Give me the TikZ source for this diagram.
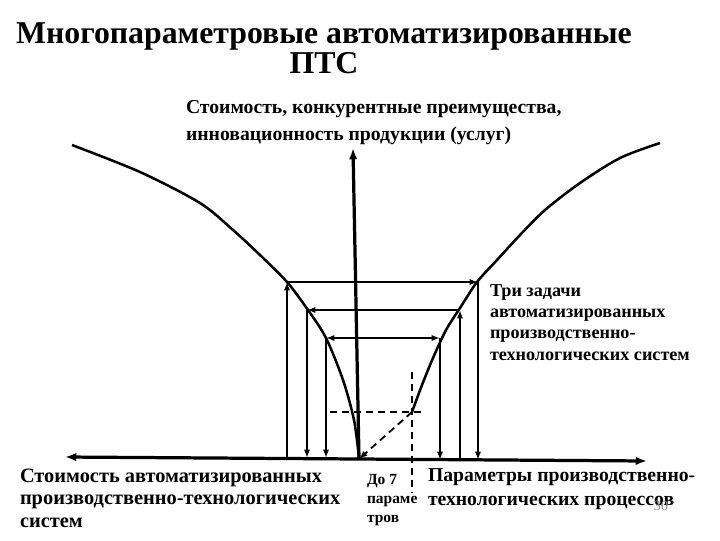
\documentclass[tikz,border=0pt]{standalone}
\usepackage{fontspec}
\setmainfont{Liberation Serif}
\usetikzlibrary{arrows.meta}

\begin{document}
\begin{tikzpicture}[x=0.025cm,y=-0.025cm,
  every node/.style={inner sep=0pt,outer sep=0pt},
  axis/.style={line width=2.3pt,-{Latex[length=8pt,width=6pt]}},
  curve/.style={line width=1.8pt},
  tip/.style={line width=1.2pt,-{Latex[length=6pt,width=4.5pt]}},
  both/.style={line width=1.2pt,{Latex[length=6pt,width=4.5pt]}-{Latex[length=6pt,width=4.5pt]}},
  guide/.style={line width=1.3pt,dash pattern=on 5pt off 3.5pt},
  lbl/.style={anchor=base west,align=left,font=\bfseries\fontsize{14}{17}\selectfont}]
  \useasboundingbox (0,0) rectangle (720,540);
  % texts (base = baseline of the last line)
  \node[anchor=base,align=center,font=\bfseries\fontsize{22.6}{21}\selectfont] (title) at (324,73) {Многопараметровые автоматизированные\\ПТС};
  \node[lbl,font=\bfseries\fontsize{14}{19.2}\selectfont] (ytitle) at (186,140) {Стоимость, конкурентные преимущества,\\инновационность продукции (услуг)};
  \node[lbl,font=\bfseries\fontsize{12.9}{15}\selectfont] (tasks) at (490,360) {Три задачи\\автоматизированных\\производственно-\\технологических систем};
  \node[lbl,font=\bfseries\fontsize{14.5}{16}\selectfont] (cost) at (20,527) {Стоимость автоматизированных\\производственно-технологических\\систем};
  \node[lbl] (params) at (428,505) {Параметры производственно-\\технологических процессов};
  \node[lbl,font=\bfseries\fontsize{11}{13.5}\selectfont] (upto) at (367,522) {До 7\\параме\\тров};
  \node[font=\fontsize{10}{12}\selectfont,text=black!45] (slideno) at (661,506) {30};
  % axes
  \coordinate (O) at (359,459);
  \coordinate (xl) at (65,457);
  \coordinate (xr) at (647,461);
  \coordinate (yt) at (353,148);
  \draw[axis] (O) -- (xl);
  \draw[axis] (O) -- (xr);
  \draw[axis] (O) -- (yt);
  % curves
  \coordinate (P) at (412,412);
  \draw[curve] plot[smooth] coordinates {(72,145) (140,172) (200,203) (233,230) (260,255) (287,282) (308,310) (326,338) (343,380) (354,420) (359,458)};
  \draw[curve] plot[smooth] coordinates {(660,143) (620,158) (580,183) (545,210) (520,235) (497,260) (477,282) (460,308) (446,330) (433,358) (422,385) (412,412)};
  % three tasks
  \coordinate (a1) at (287,282); \coordinate (b1) at (478,282);
  \coordinate (a2) at (307,310); \coordinate (b2) at (460,310);
  \coordinate (a3) at (326,338); \coordinate (b3) at (440,338);
  \coordinate (fa1) at (287,458); \coordinate (fb1) at (478,460);
  \coordinate (fa2) at (307,458); \coordinate (fb2) at (460,460);
  \coordinate (fa3) at (326,458); \coordinate (fb3) at (440,460);
  \draw[tip] (fa1) -- (a1);
  \draw[tip] (a1) -- (b1);
  \draw[tip] (b1) -- (fb1);
  \draw[tip] (fb2) -- (b2);
  \draw[tip] (b2) -- (a2);
  \draw[tip] (a2) -- (fa2);
  \draw[both] (a3) -- (b3);
  \draw[tip] (a3) -- (fa3);
  \draw[tip] (b3) -- (fb3);
  % dashed guides
  \coordinate (v1) at (412,372); \coordinate (v2) at (412,492);
  \coordinate (h1) at (330,412); \coordinate (h2) at (422,412);
  \draw[guide] (v1) -- (v2);
  \draw[guide] (h1) -- (h2);
  \draw[guide,-{Latex[length=6pt,width=4.5pt]}] (P) -- (O);
\end{tikzpicture}
\end{document}
